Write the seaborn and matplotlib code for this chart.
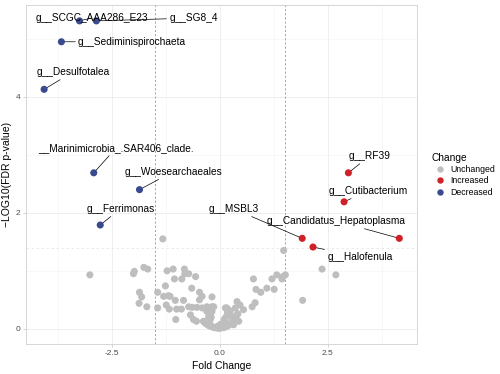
import numpy as np
import pandas as pd
import matplotlib
matplotlib.use("Agg")
import matplotlib.pyplot as plt
import seaborn as sns

# significant taxa (fold change, -log10 FDR p)
sig_names = ["g__SCGC_AAA286_E23", "g__SG8_4", "g__Sediminispirochaeta", "g__Desulfotalea",
             "__Marinimicrobia_.SAR406_clade.", "g__Woesearchaeales", "g__Ferrimonas",
             "g__RF39", "g__Cutibacterium", "g__MSBL3", "g__Candidatus_Hepatoplasma", "g__Halofenula"]
sig_fc = [-3.25, -2.86, -3.67, -4.07, -2.92, -1.86, -2.77, 2.98, 2.88, 1.91, 4.16, 2.16]
sig_p = [5.31, 5.31, 4.95, 4.13, 2.69, 2.40, 1.79, 2.69, 2.19, 1.56, 1.56, 1.41]
sig_change = ["Decreased"] * 7 + ["Increased"] * 5

# unchanged taxa
ns_fc = [-3.01, -1.98, -2.00, -1.76, -1.67, -1.32, -1.86, -1.81, -1.87, -1.69, -1.44, -1.44,
         -1.22, -1.08, -1.05, -1.26, -1.30, -1.19, -1.15, -1.03, -1.24, -1.17, -1.00, -1.02,
         -0.82, -0.81, -0.72, -0.56, -0.88, -0.65, -0.47, -0.41, -0.18, -0.47, -0.84, -0.89,
         -0.72, -0.64, -0.53, -0.41, -0.30, -0.18, -0.30, -0.68, -0.61, -0.54, -0.38, -0.34,
         -0.26, -0.22,
         -0.36, -0.32, -0.28, -0.24, -0.20, -0.16, -0.12, -0.08, -0.04, 0.00, 0.04, 0.08,
         0.12, 0.16, 0.20, 0.24, 0.28, 0.30, 0.34, 0.38, 0.42, -0.22, -0.20, -0.22, -0.18,
         -0.20, -0.14, 0.10, 0.14, 0.18, 0.20, 0.16, 0.12, 0.06, -0.10, -0.06, 0.02,
         0.13, 0.17, 0.24, 0.20, 0.28, 0.40, 0.47, 0.36, 0.55, 0.40, 0.28, 0.44, 0.32,
         0.75, 0.82, 0.78, 0.84, 0.95, 1.09, 1.26, 1.21, 1.32, 1.44, 1.52, 1.48, 1.46,
         1.92, 2.37, 2.69]
ns_p = [0.93, 0.99, 0.95, 1.06, 1.03, 1.55, 0.63, 0.55, 0.44, 0.38, 0.63, 0.36,
        1.00, 1.03, 0.86, 0.74, 0.56, 0.57, 0.56, 0.49, 0.41, 0.34, 0.34, 0.16,
        1.03, 0.95, 0.95, 0.90, 0.86, 0.70, 0.63, 0.56, 0.55, 0.50, 0.49, 0.34,
        0.38, 0.37, 0.37, 0.36, 0.38, 0.38, 0.30, 0.24, 0.16, 0.13, 0.13, 0.10,
        0.21, 0.07,
        0.12, 0.09, 0.07, 0.05, 0.04, 0.03, 0.02, 0.02, 0.01, 0.01, 0.02, 0.02,
        0.03, 0.04, 0.06, 0.08, 0.10, 0.14, 0.18, 0.22, 0.26, 0.16, 0.20, 0.26, 0.30,
        0.34, 0.38, 0.16, 0.20, 0.28, 0.33, 0.36, 0.12, 0.06, 0.02, 0.04, 0.08,
        0.36, 0.33, 0.30, 0.24, 0.21, 0.47, 0.41, 0.36, 0.33, 0.24, 0.13, 0.13, 0.07,
        0.38, 0.45, 0.86, 0.68, 0.63, 0.70, 0.68, 0.86, 0.93, 0.86, 0.93, 1.35, 0.90,
        0.49, 1.03, 0.93]

df = pd.DataFrame({
    "fc": ns_fc + sig_fc,
    "p": ns_p + sig_p,
    "Change": ["Unchanged"] * len(ns_fc) + sig_change,
})

# label placement (data coords) for the repelled text
label_pos = [(-2.97, 5.36), (-0.61, 5.36), (-2.03, 4.95), (-3.40, 4.43), (-2.40, 3.12),
             (-1.08, 2.71), (-2.30, 2.07), (3.47, 2.98), (3.44, 2.38), (0.32, 2.07),
             (2.70, 1.86), (3.25, 1.24)]

plt.rcParams["font.family"] = ["Liberation Sans", "DejaVu Sans"]

fig = plt.figure(figsize=(5, 3.74), dpi=100)
ax = fig.add_axes([0.052, 0.079, 0.782, 0.907])

palette = {"Unchanged": "#bebebe", "Increased": "#cf2127", "Decreased": "#3a4a8e"}
sns.scatterplot(data=df, x="fc", y="p", hue="Change",
                hue_order=["Unchanged", "Increased", "Decreased"],
                palette=palette, s=26, linewidth=0, ax=ax, zorder=3)

ax.axvline(-1.5, color="#7f7f7f", lw=0.5, ls=(0, (3, 3)), zorder=2)
ax.axvline(1.5, color="#7f7f7f", lw=0.5, ls=(0, (3, 3)), zorder=2)
ax.axhline(1.4, color="#e6e6e6", lw=0.6, ls=(0, (3, 3)), zorder=2)

for name, x, y, (tx, ty) in zip(sig_names, sig_fc, sig_p, label_pos):
    ax.annotate(name, xy=(x, y), xytext=(tx, ty), fontsize=7.3, color="black",
                ha="center", va="center", zorder=4,
                arrowprops=dict(arrowstyle="-", color="black", lw=0.5,
                                shrinkA=0, shrinkB=2.5))

ax.set_xlim(-4.49, 4.57)
ax.set_ylim(-0.27, 5.58)
ax.set_xticks([-2.5, 0, 2.5])
ax.set_xticklabels(["-2.5", "0.0", "2.5"])
ax.set_yticks([0, 2, 4])
ax.set_xticks([-3.75, -1.25, 1.25, 3.75], minor=True)
ax.set_yticks([1, 3, 5], minor=True)
ax.grid(which="major", color="#ebebeb", lw=0.6, zorder=0)
ax.grid(which="minor", color="#f3f3f3", lw=0.4, zorder=0)
ax.set_axisbelow(True)
ax.tick_params(which="major", length=2, width=0.4, color="#b3b3b3",
               labelsize=6, labelcolor="#4d4d4d", pad=2)
ax.tick_params(which="minor", length=0)
for sp in ax.spines.values():
    sp.set_color("#d0d0d0")
    sp.set_linewidth(0.6)

ax.set_xlabel("Fold Change", fontsize=7.5, labelpad=3)
ax.set_ylabel("\u2212LOG10(FDR p-value)", fontsize=7.5, labelpad=3)

leg = ax.legend(title="Change", loc="upper left", bbox_to_anchor=(0.855, 0.6),
                bbox_transform=fig.transFigure, frameon=False, fontsize=6.3,
                title_fontsize=7.3, handletextpad=0.2, labelspacing=0.25,
                markerscale=0.9, borderaxespad=0)
leg._legend_box.align = "left"

fig.savefig("out.png", dpi=100)
